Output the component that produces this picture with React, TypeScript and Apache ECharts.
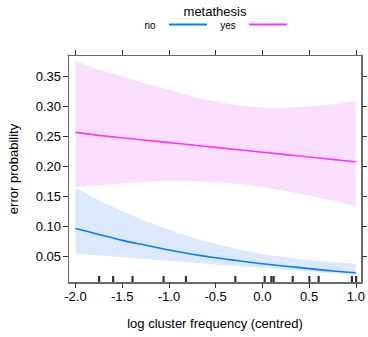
import React, { useEffect, useRef } from "react";
import * as echarts from "echarts";

const X = [-2, -1.75, -1.5, -1.25, -1, -0.75, -0.5, -0.25, 0, 0.25, 0.5, 0.75, 1];

const yesFit = [0.256, 0.251, 0.247, 0.243, 0.239, 0.235, 0.231, 0.227, 0.223, 0.219, 0.215, 0.211, 0.207];
const yesUpper = [0.375, 0.361, 0.349, 0.337, 0.327, 0.316, 0.307, 0.301, 0.297, 0.297, 0.299, 0.303, 0.309];
const yesLower = [0.165, 0.168, 0.171, 0.174, 0.175, 0.175, 0.173, 0.17, 0.165, 0.158, 0.151, 0.142, 0.133];

const noFit = [0.096, 0.086, 0.076, 0.068, 0.06, 0.053, 0.047, 0.042, 0.037, 0.033, 0.029, 0.025, 0.022];
const noUpper = [0.164, 0.143, 0.125, 0.108, 0.094, 0.081, 0.07, 0.061, 0.053, 0.048, 0.043, 0.04, 0.037];
const noLower = [0.054, 0.051, 0.048, 0.045, 0.042, 0.039, 0.036, 0.033, 0.03, 0.027, 0.024, 0.021, 0.019];

const rug = [-1.747, -1.597, -1.389, -1.057, -0.818, -0.29, 0.025, 0.096, 0.121, 0.325, 0.503, 0.602, 0.958, 1.003];

const xTicks = [-2, -1.5, -1, -0.5, 0, 0.5, 1];
const yTicks = [0.05, 0.1, 0.15, 0.2, 0.25, 0.3, 0.35];

const X_MIN = -2.08;
const X_MAX = 1.066;
const Y_MIN = 0.005;
const Y_MAX = 0.385;

const FONT = "Liberation Sans, Arial, Helvetica, sans-serif";
const BLUE = "#0080ff";
const PINK = "#ff33ff";

function bandSeries(name: string, upper: number[], lower: number[], fill: string) {
  return {
    type: "custom",
    name,
    data: [[0]],
    silent: true,
    z: 1,
    renderItem: (_params: any, api: any) => {
      const top = X.map((x, i) => api.coord([x, upper[i]]));
      const bottom = X.map((x, i) => api.coord([x, lower[i]])).reverse();
      return {
        type: "polygon",
        shape: { points: top.concat(bottom) },
        style: { fill, stroke: "none" },
      };
    },
  };
}

export default function App() {
  const ref = useRef<HTMLDivElement>(null);
  useEffect(() => {
    document.body.style.margin = "0";
    if (!ref.current) return;
    const chart = echarts.init(ref.current, null, { renderer: "svg" });
    const pairs = (ys: number[]) => X.map((x, i) => [x, ys[i]]);
    const axisLineStyle = { color: "#6a6a6a", width: 1 };
    const tickStyle = { color: "#333", width: 1 };
    const baseX = {
      type: "value" as const,
      min: X_MIN,
      max: X_MAX,
      splitLine: { show: false },
      axisLine: { show: true, onZero: false, lineStyle: axisLineStyle },
    };
    const baseY = {
      type: "value" as const,
      min: Y_MIN,
      max: Y_MAX,
      splitLine: { show: false },
      axisLine: { show: true, onZero: false, lineStyle: axisLineStyle },
    };
    chart.setOption({
      animation: false,
      textStyle: { fontFamily: FONT },
      grid: { left: 68, right: 6, top: 55, bottom: 54, show: false },
      xAxis: [
        {
          ...baseX,
          position: "bottom",
          axisTick: { show: true, length: 5, lineStyle: tickStyle, customValues: xTicks },
          axisLabel: {
            show: true,
            customValues: xTicks,
            formatter: (v: number) => v.toFixed(1),
            fontSize: 13,
            color: "#000",
            fontFamily: FONT,
            margin: 7,
          },
        },
        {
          ...baseX,
          position: "top",
          axisTick: { show: true, length: 5, lineStyle: tickStyle, customValues: xTicks },
          axisLabel: { show: false },
        },
      ],
      yAxis: [
        {
          ...baseY,
          position: "left",
          axisTick: { show: true, length: 5, lineStyle: tickStyle, customValues: yTicks },
          axisLabel: {
            show: true,
            customValues: yTicks,
            formatter: (v: number) => v.toFixed(2),
            fontSize: 13,
            color: "#000",
            fontFamily: FONT,
            margin: 7,
          },
        },
        {
          ...baseY,
          position: "right",
          axisTick: { show: true, length: 5, lineStyle: tickStyle, customValues: yTicks },
          axisLabel: { show: false },
        },
      ],
      series: [
        bandSeries("yesBand", yesUpper, yesLower, "#fadffc"),
        bandSeries("noBand", noUpper, noLower, "#dce8fb"),
        {
          type: "line",
          name: "yes",
          data: pairs(yesFit),
          smooth: 0.3,
          symbol: "none",
          z: 3,
          lineStyle: { color: PINK, width: 1.6 },
        },
        {
          type: "line",
          name: "no",
          data: pairs(noFit),
          smooth: 0.3,
          symbol: "none",
          z: 3,
          lineStyle: { color: BLUE, width: 1.6 },
        },
        {
          type: "scatter",
          name: "rug",
          data: rug.map((x) => [x, Y_MIN]),
          symbol: "rect",
          symbolSize: [2.2, 7],
          symbolOffset: [0, -3.5],
          itemStyle: { color: "#000" },
          silent: true,
          clip: false,
          z: 4,
        },
      ],
      graphic: [
        {
          type: "rect",
          shape: { x: 68.5, y: 55.5, width: 293, height: 227 },
          style: { fill: "none", stroke: "#6a6a6a", lineWidth: 1 },
          silent: true,
          z: 10,
        },
        {
          type: "text",
          x: 215,
          y: 11,
          style: { text: "metathesis", font: `13px ${FONT}`, fill: "#000", align: "center", verticalAlign: "middle" },
        },
        {
          type: "text",
          x: 150,
          y: 25,
          style: { text: "no", font: `10px ${FONT}`, fill: "#000", align: "center", verticalAlign: "middle" },
        },
        {
          type: "line",
          shape: { x1: 169, y1: 24.5, x2: 207, y2: 24.5 },
          style: { stroke: BLUE, lineWidth: 2 },
        },
        {
          type: "text",
          x: 228,
          y: 25,
          style: { text: "yes", font: `10px ${FONT}`, fill: "#000", align: "center", verticalAlign: "middle" },
        },
        {
          type: "line",
          shape: { x1: 249, y1: 24.5, x2: 287, y2: 24.5 },
          style: { stroke: PINK, lineWidth: 2 },
        },
        {
          type: "text",
          x: 215,
          y: 323,
          style: {
            text: "log cluster frequency (centred)",
            font: `13px ${FONT}`,
            fill: "#000",
            align: "center",
            verticalAlign: "middle",
          },
        },
        {
          type: "text",
          x: 13,
          y: 169,
          rotation: Math.PI / 2,
          style: {
            text: "error probability",
            font: `13px ${FONT}`,
            fill: "#000",
            align: "center",
            verticalAlign: "middle",
          },
        },
      ],
    });
    return () => chart.dispose();
  }, []);
  return <div ref={ref} style={{ width: 368, height: 337 }} />;
}
